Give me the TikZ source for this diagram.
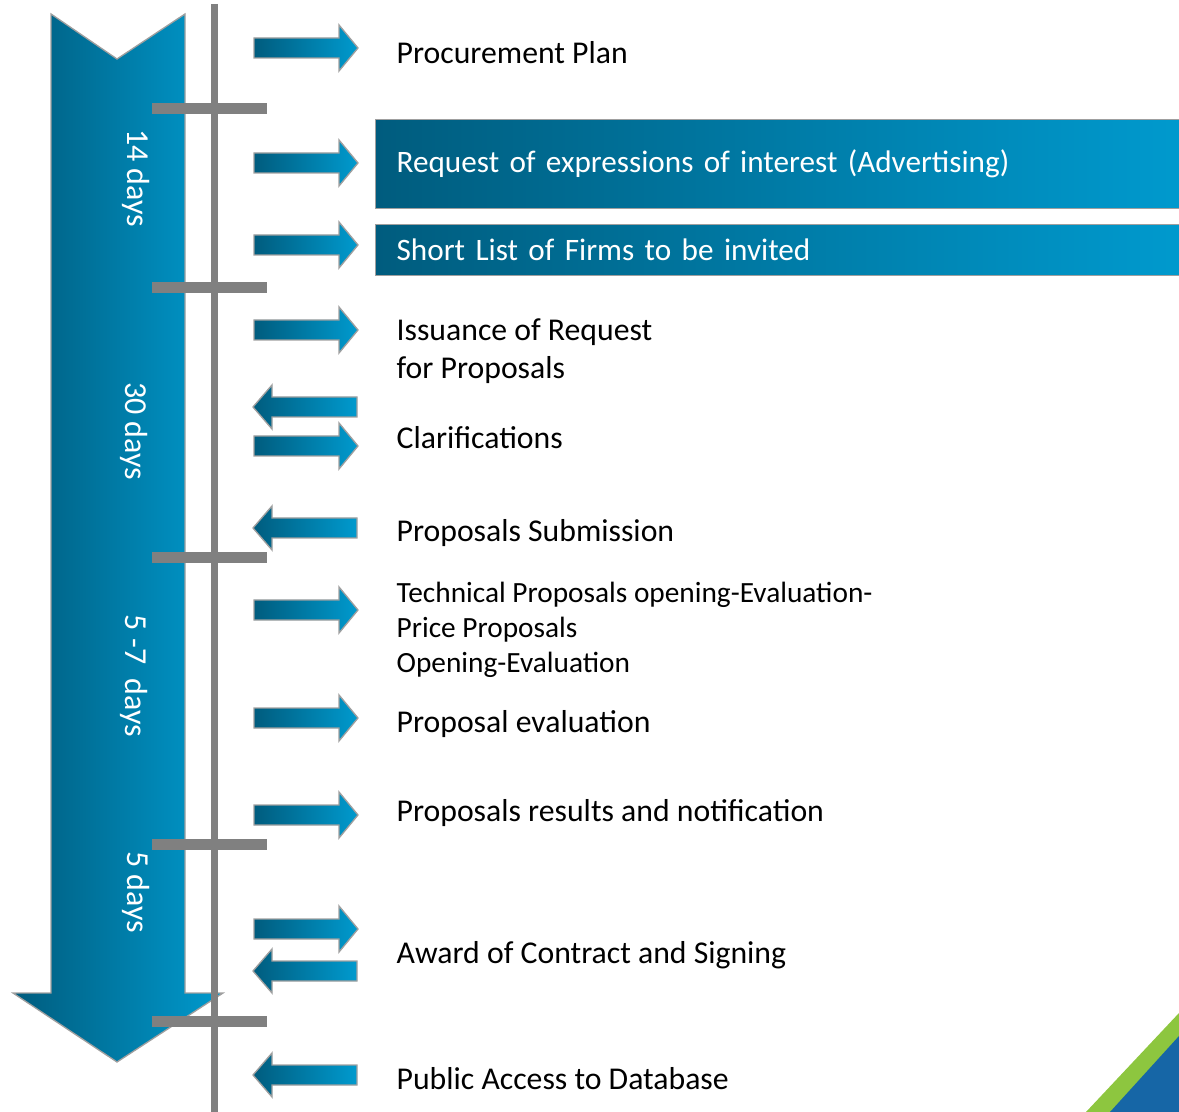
\documentclass[tikz,border=0pt]{standalone}
\usepackage{fontspec}
\setmainfont{Carlito}
\usepackage{tikz}
\definecolor{tealdark}{RGB}{0,92,126}
\definecolor{teallight}{RGB}{0,154,206}
\definecolor{barline}{RGB}{128,128,128}
\definecolor{cornergreen}{RGB}{141,198,63}
\definecolor{cornerblue}{RGB}{22,102,166}

\begin{document}
\begin{tikzpicture}[x=0.75pt,y=-0.75pt,line width=1pt,
  blueshade/.style={left color=tealdark,right color=teallight,draw=gray!75},
  steplabel/.style={anchor=west,inner sep=0pt,align=left,font=\fontsize{23.8}{28.5}\selectfont},
  stepbox/.style={blueshade,anchor=north west,inner xsep=15.75pt,inner ysep=0pt,text width=575.25pt,align=left,text=white,font=\fontsize{23.4}{26}\selectfont},
  days/.style={rotate=-90,inner sep=0pt,text=white,font=\fontsize{24}{26}\selectfont},
  tickbar/.style={barline,line width=8.25pt}]
  \useasboundingbox (0,0) rectangle (1179,1112);
  \shade[blueshade] (51,14)--(117,59)--(185,14)--(185,993)--(223,993)--(117,1062)--(13,993)--(51,993)--cycle;
  \node[days] (d14) at (136,178) {14 days};
  \node[days] (d30) at (134,431) {30 days};
  \node[days] (d57) at (134,676) {5 -7~~days};
  \node[days] (d5) at (136,892) {5 days};
  \draw[barline,line width=5.25pt] (214.5,4)--(214.5,1112);
  \foreach \y in {109,287.5,558,844,1021}
    \draw[tickbar] (152,\y)--(267,\y);
  \foreach \y in {48,163,245,330,446,610,718,815,929}
    \shade[blueshade] (254,\y-10)--(339,\y-10)--(339,\y-23)--(358,\y)--(339,\y+23)--(339,\y+10)--(254,\y+10)--cycle;
  \foreach \y in {407,528,971,1075}
    \shade[blueshade] (357,\y-10)--(272,\y-10)--(272,\y-22)--(253,\y)--(272,\y+22)--(272,\y+10)--(357,\y+10)--cycle;
  \node[stepbox,minimum height=66.75pt] (request) at (375,119) {Request of expressions of interest (Advertising)};
  \node[stepbox,minimum height=38.25pt] (shortlist) at (375,224) {Short List of Firms to be invited};
  \node[steplabel] (plan) at (396,53) {Procurement Plan};
  \node[steplabel] (issue) at (396,351) {Issuance of Request\\for Proposals};
  \node[steplabel] (clarif) at (396,438) {Clarifications};
  \node[steplabel] (submit) at (396,533) {Proposals Submission};
  \node[steplabel,font=\fontsize{22}{26.25}\selectfont] (tech) at (396,630) {Technical Proposals opening-Evaluation-\\Price Proposals\\Opening-Evaluation};
  \node[steplabel] (evalu) at (396,724) {Proposal evaluation};
  \node[steplabel] (result) at (396,813) {Proposals results and notification};
  \node[steplabel] (award) at (396,955) {Award of Contract and Signing};
  \node[steplabel] (public) at (396,1079) {Public Access to Database};
  \fill[cornergreen] (1179,1013)--(1179,1112)--(1086,1112)--cycle;
  \fill[cornerblue] (1179,1036)--(1179,1112)--(1110,1112)--cycle;
\end{tikzpicture}
\end{document}
